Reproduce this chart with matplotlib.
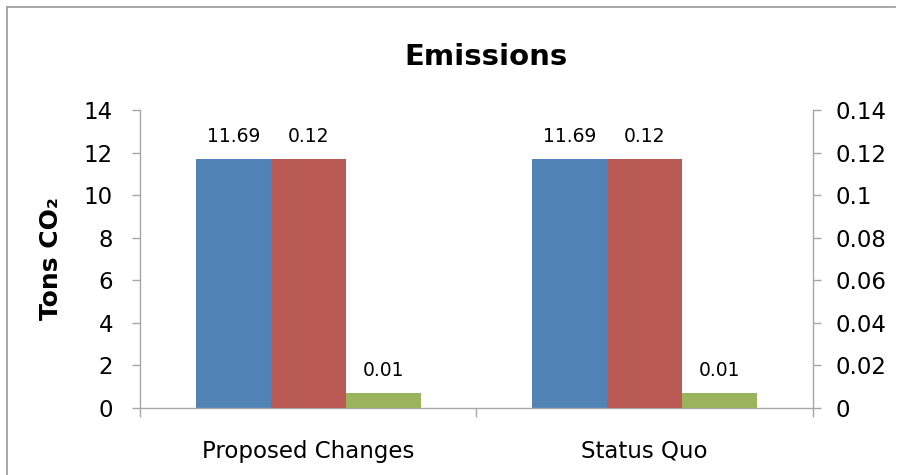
import matplotlib.pyplot as plt
from matplotlib.lines import Line2D
import numpy as np

categories = ['Proposed Changes', 'Status Quo']
primary_vals = [11.69, 11.69]      # blue, left axis
secondary_a = [0.117, 0.117]       # red, right axis
secondary_b = [0.007, 0.007]       # green, right axis

left_ticks = [0, 2, 4, 6, 8, 10, 12, 14]
right_ticks = [0, 0.02, 0.04, 0.06, 0.08, 0.1, 0.12, 0.14]
right_labels = ['0', '0.02', '0.04', '0.06', '0.08', '0.1', '0.12', '0.14']

blue = '#5283B7'
red = '#B95A55'
green = '#9BB35D'
axis_gray = '#A6A6A6'

plt.rcParams['font.family'] = 'DejaVu Sans'

fig = plt.figure(figsize=(9.12, 4.75), dpi=100)
ax = fig.add_axes([0.1535, 0.141, 0.7379, 0.6274])
ax2 = ax.twinx()

x = np.arange(len(categories))
w = 0.223
xmin, xmax = -0.5, 1.5

b1 = ax.bar(x - w, primary_vals, w, color=blue)
b2 = ax2.bar(x, secondary_a, w, color=red)
b3 = ax2.bar(x + w, secondary_b, w, color=green)

ax.bar_label(b1, labels=['%.2f' % v for v in primary_vals], padding=9.5, fontsize=13.5)
ax2.bar_label(b2, labels=['%.2f' % v for v in secondary_a], padding=9.5, fontsize=13.5)
ax2.bar_label(b3, labels=['%.2f' % v for v in secondary_b], padding=9.5, fontsize=13.5)

ax.set_xlim(xmin, xmax)
ax.set_ylim(0, 14)
ax2.set_ylim(0, 0.14)
ax.set_yticks(left_ticks)
ax.set_yticklabels([str(t) for t in left_ticks])
ax2.set_yticks(right_ticks)
ax2.set_yticklabels(right_labels)

ax.set_xticks(x)
ax.set_xticklabels(categories, fontsize=16.5)
ax.set_xticks([xmin, 0.5, xmax], minor=True)
ax.tick_params(axis='x', which='major', length=0, pad=23)
ax.tick_params(axis='x', which='minor', length=6.5, width=1, color=axis_gray, direction='out')
ax.tick_params(axis='y', labelsize=16.5, length=6, width=1, color=axis_gray, pad=13.5)
ax2.tick_params(axis='y', labelsize=16.5, length=6, width=1, color=axis_gray, pad=10.5)

for a in (ax, ax2):
    a.spines['top'].set_visible(False)
    for s in ('left', 'right', 'bottom'):
        a.spines[s].set_color(axis_gray)
        a.spines[s].set_linewidth(1)
ax.spines['right'].set_visible(False)
ax2.spines['left'].set_visible(False)
ax2.spines['bottom'].set_visible(False)

ax.set_ylabel('Tons CO₂', fontsize=18, fontweight='bold', labelpad=15)
fig.text(0.533, 1 - 65 / 475, 'Emissions', ha='center', va='baseline', fontsize=21, fontweight='bold')

# chart frame (cut off at right and bottom)
fig.add_artist(Line2D([7 / 912, 7 / 912], [0, 1 - 7 / 475], transform=fig.transFigure, color='#A0A0A0', lw=1.3))
fig.add_artist(Line2D([7 / 912, 895 / 912], [1 - 7 / 475, 1 - 7 / 475], transform=fig.transFigure, color='#A0A0A0', lw=1.3))

fig.savefig('out.png', dpi=100)
